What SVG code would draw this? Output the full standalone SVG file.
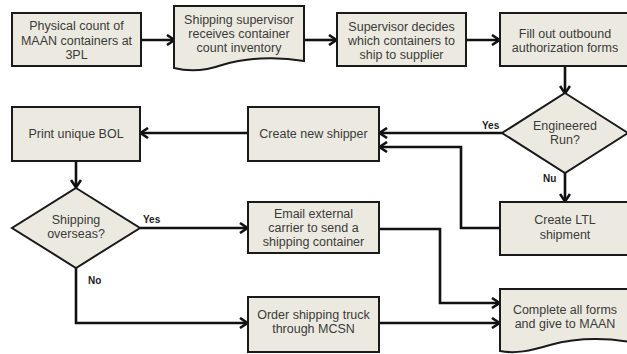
<svg xmlns="http://www.w3.org/2000/svg" width="627" height="354" viewBox="0 0 627 354">
<defs>
<marker id="ah" markerWidth="12" markerHeight="12" refX="9" refY="6" orient="auto" markerUnits="userSpaceOnUse">
<path d="M2,1 L9.5,6 L2,11" fill="none" stroke="#111" stroke-width="2.6" stroke-linejoin="miter"/>
</marker>
</defs>
<style>
.n{fill:#ECEAE0;stroke:#1a1a1a;stroke-width:2}
.t{font-family:"Liberation Sans",Arial,sans-serif;font-size:12.5px;fill:#3a3a3a;text-anchor:middle}
.l{font-family:"Liberation Sans",Arial,sans-serif;font-size:10px;font-weight:bold;fill:#222}
.c{fill:none;stroke:#111;stroke-width:2.6;marker-end:url(#ah)}
</style>
<rect width="627" height="354" fill="#fff"/>
<g id="connectors">
<path class="c" d="M141,40 H174"/>
<path class="c" d="M304,40 H336"/>
<path class="c" d="M466,40 H499"/>
<path class="c" d="M565,66 V93"/>
<path class="c" d="M502,133 H380"/>
<path class="c" d="M500,228 H461 V147 H380"/>
<path class="c" d="M565,173 V201"/>
<path class="c" d="M248,133 H141"/>
<path class="c" d="M76,161 V187"/>
<path class="c" d="M140,228 H247"/>
<path class="c" d="M76,268 V323 H247"/>
<path class="c" d="M379,229 H440 V303 H499"/>
<path class="c" d="M379,323 H499"/>
<text class="l" x="482" y="129">Yes</text>
<text class="l" x="543" y="182">Nu</text>
<text class="l" x="143" y="223">Yes</text>
<text class="l" x="88" y="284">No</text>
</g>
<g id="n1">
<rect class="n" x="12" y="13" width="129" height="53"/>
<text class="t" x="76.5" y="30">Physical count of</text>
<text class="t" x="76.5" y="44.5">MAAN containers at</text>
<text class="t" x="76.5" y="59">3PL</text>
</g>
<g id="n2">
<path class="n" d="M174,6 H304 V61 C275,56 245,58 222,65 C205,71 190,72 174,68 Z"/>
<text class="t" x="239" y="24">Shipping supervisor</text>
<text class="t" x="239" y="38">receives container</text>
<text class="t" x="239" y="52">count inventory</text>
</g>
<g id="n3">
<rect class="n" x="337" y="13" width="129" height="53"/>
<text class="t" x="401.5" y="31">Supervisor decides</text>
<text class="t" x="401.5" y="45">which containers to</text>
<text class="t" x="401.5" y="59">ship to supplier</text>
</g>
<g id="n4">
<rect class="n" x="500" y="13" width="130" height="53"/>
<text class="t" x="565" y="38">Fill out outbound</text>
<text class="t" x="565" y="52">authorization forms</text>
</g>
<g id="n5">
<path class="n" d="M565,93 L628,133 L565,173 L502,133 Z"/>
<text class="t" x="565" y="130">Engineered</text>
<text class="t" x="565" y="144">Run?</text>
</g>
<g id="n6">
<rect class="n" x="248" y="107" width="131" height="54"/>
<text class="t" x="313.5" y="138">Create new shipper</text>
</g>
<g id="n7">
<rect class="n" x="12" y="107" width="128" height="54"/>
<text class="t" x="76" y="138">Print unique BOL</text>
</g>
<g id="n8">
<rect class="n" x="500" y="202" width="130" height="53"/>
<text class="t" x="565" y="224">Create LTL</text>
<text class="t" x="565" y="239">shipment</text>
</g>
<g id="n9">
<path class="n" d="M76,188 L140,228 L76,268 L12,228 Z"/>
<text class="t" x="76" y="224">Shipping</text>
<text class="t" x="76" y="238">overseas?</text>
</g>
<g id="n10">
<rect class="n" x="248" y="202" width="131" height="51"/>
<text class="t" x="313.5" y="218">Email external</text>
<text class="t" x="313.5" y="232">carrier to send a</text>
<text class="t" x="313.5" y="246">shipping container</text>
</g>
<g id="n11">
<rect class="n" x="248" y="297" width="131" height="55"/>
<text class="t" x="313.5" y="319">Order shipping truck</text>
<text class="t" x="313.5" y="333">through MCSN</text>
</g>
<g id="n12">
<path class="n" d="M500,289 H630 V342 C600,337 572,339 550,345 C530,351 515,354 500,351 Z"/>
<text class="t" x="565" y="314">Complete all forms</text>
<text class="t" x="565" y="328">and give to MAAN</text>
</g>
</svg>
